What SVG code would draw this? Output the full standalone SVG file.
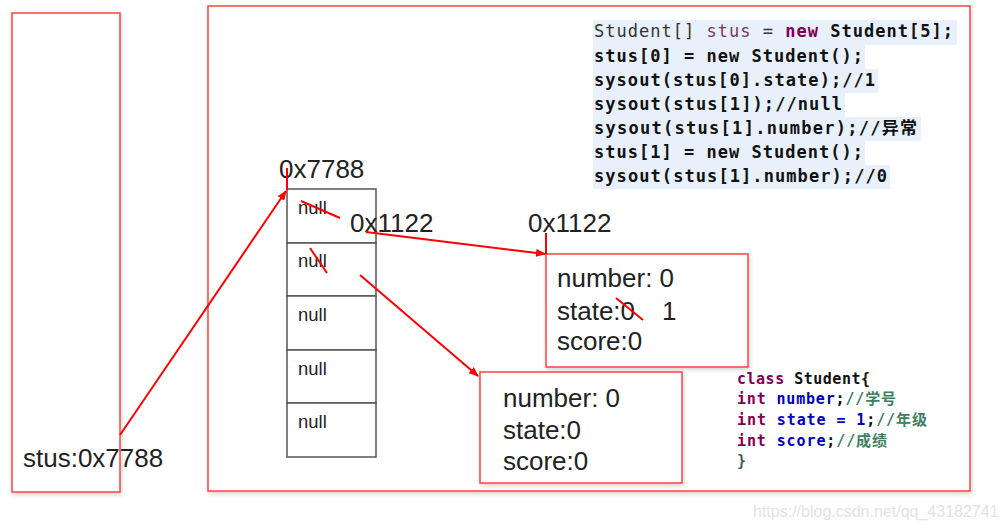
<svg xmlns="http://www.w3.org/2000/svg" width="1004" height="529" viewBox="0 0 1004 529">
<defs>
<filter id="sh" x="-5%" y="-5%" width="110%" height="110%"><feDropShadow dx="1" dy="2" stdDeviation="2" flood-color="#000" flood-opacity="0.18"/></filter>
<marker id="ah" markerWidth="10" markerHeight="8" refX="9" refY="4" orient="auto" markerUnits="userSpaceOnUse"><path d="M0,0 L10,4 L0,8 Z" fill="#ff0000"/></marker>
<style>
.rb{fill:#fff;stroke:#ff4040;stroke-width:1.5}
.cell{fill:#fff;stroke:#555;stroke-width:1.5}
.t{font-family:"Liberation Sans",Arial,sans-serif;fill:#222}
.big{font-size:26px}
.nul{font-size:18.5px}
.code{font-family:"DejaVu Sans Mono","Liberation Mono","Noto Sans CJK SC",monospace;font-size:17px;font-weight:bold;fill:#111}
.hl{fill:#e8f0fc}
.cls{font-family:"DejaVu Sans Mono","Liberation Mono","Noto Sans CJK SC",monospace;font-size:15px;font-weight:bold}
.kw{fill:#7f0055}.fd{fill:#0000c0}.cm{fill:#3f7f5f}.bk{fill:#111}
.red{stroke:#ff0000;stroke-width:2;fill:none}
</style>
</defs>
<g id="stack"><rect class="rb" x="12" y="13" width="108" height="479" filter="url(#sh)"/><text class="t big" x="23" y="467">stus:0x7788</text></g>
<g id="heap"><rect class="rb" x="208" y="6" width="762" height="485" filter="url(#sh)"/></g>
<g id="code">
<rect class="hl" x="593" y="20" width="364" height="25"/>
<rect class="hl" x="593" y="45" width="272" height="24"/>
<rect class="hl" x="593" y="69" width="285" height="24"/>
<rect class="hl" x="593" y="93" width="252" height="24"/>
<rect class="hl" x="593" y="117" width="328" height="24"/>
<rect class="hl" x="593" y="141" width="272" height="24"/>
<rect class="hl" x="593" y="165" width="297" height="24"/>
<text x="594" y="37" class="code" style="font-weight:normal" textLength="359" lengthAdjust="spacing"><tspan fill="#333">Student[] </tspan><tspan fill="#7a3a60">stus</tspan><tspan fill="#333"> = </tspan><tspan class="kw" font-weight="bold">new</tspan><tspan fill="#111" font-weight="bold"> Student[5];</tspan></text>
<text x="594" y="62" class="code" textLength="269" lengthAdjust="spacing">stus[0] = new Student();</text>
<text x="594" y="86" class="code" textLength="281" lengthAdjust="spacing">sysout(stus[0].state);//1</text>
<text x="594" y="110" class="code" textLength="248" lengthAdjust="spacing">sysout(stus[1]);//null</text>
<text x="594" y="134" class="code" textLength="323" lengthAdjust="spacing">sysout(stus[1].number);//异常</text>
<text x="594" y="158" class="code" textLength="269" lengthAdjust="spacing">stus[1] = new Student();</text>
<text x="594" y="182" class="code" textLength="293" lengthAdjust="spacing">sysout(stus[1].number);//0</text>
</g>
<g id="array">
<text class="t big" x="279" y="178">0x7788</text>
<rect class="cell" x="287" y="189" width="89" height="54"/>
<rect class="cell" x="287" y="243" width="89" height="53"/>
<rect class="cell" x="287" y="296" width="89" height="54"/>
<rect class="cell" x="287" y="350" width="89" height="53"/>
<rect class="cell" x="287" y="403" width="89" height="54"/>
<text class="t nul" x="298" y="214">null</text>
<text class="t nul" x="298" y="267">null</text>
<text class="t nul" x="298" y="321">null</text>
<text class="t nul" x="298" y="375">null</text>
<text class="t nul" x="298" y="428">null</text>
<text class="t big" x="350" y="232">0x1122</text>
</g>
<g id="obj1">
<text class="t big" x="528" y="232">0x1122</text>
<rect class="rb" x="546" y="254" width="202" height="113" filter="url(#sh)"/>
<text class="t big" x="557" y="287">number: 0</text>
<text class="t big" x="557" y="320">state:0</text>
<text class="t big" x="662" y="320">1</text>
<text class="t big" x="557" y="350">score:0</text>
</g>
<g id="obj2">
<rect class="rb" x="480" y="372" width="202" height="111" filter="url(#sh)"/>
<text class="t big" x="503" y="407">number: 0</text>
<text class="t big" x="503" y="439">state:0</text>
<text class="t big" x="503" y="470">score:0</text>
</g>
<g id="classdef" class="cls">
<text x="737" y="384" textLength="133" lengthAdjust="spacing"><tspan class="kw">class</tspan><tspan class="bk"> Student{</tspan></text>
<text x="737" y="404" textLength="159" lengthAdjust="spacing"><tspan class="kw">int</tspan><tspan class="fd"> number</tspan><tspan class="bk">;</tspan><tspan class="cm">//学号</tspan></text>
<text x="737" y="425" textLength="190" lengthAdjust="spacing"><tspan class="kw">int</tspan><tspan class="fd"> state = 1</tspan><tspan class="bk">;</tspan><tspan class="cm">//年级</tspan></text>
<text x="737" y="446" textLength="150" lengthAdjust="spacing"><tspan class="kw">int</tspan><tspan class="fd"> score</tspan><tspan class="bk">;</tspan><tspan class="cm">//成绩</tspan></text>
<text x="737" y="466" fill="#3f5f4f">}</text>
</g>
<g id="connectors">
<line class="red" x1="120" y1="435" x2="286" y2="191" marker-end="url(#ah)"/>
<line class="red" x1="287" y1="168" x2="287" y2="190"/>
<line class="red" x1="301" y1="201" x2="340" y2="218"/>
<line class="red" x1="366" y1="232" x2="545" y2="254" marker-end="url(#ah)"/>
<line class="red" x1="546" y1="233" x2="546" y2="254"/>
<line class="red" x1="310" y1="248" x2="327" y2="273"/>
<line class="red" x1="360" y1="275" x2="478" y2="376" marker-end="url(#ah)"/>
<line class="red" x1="616" y1="298" x2="643" y2="320"/>
</g>
<text x="753" y="517" font-family="Liberation Sans,Arial,sans-serif" font-size="16" fill="#e2e2e2">https://blog.csdn.net/qq_43182741</text>
</svg>
